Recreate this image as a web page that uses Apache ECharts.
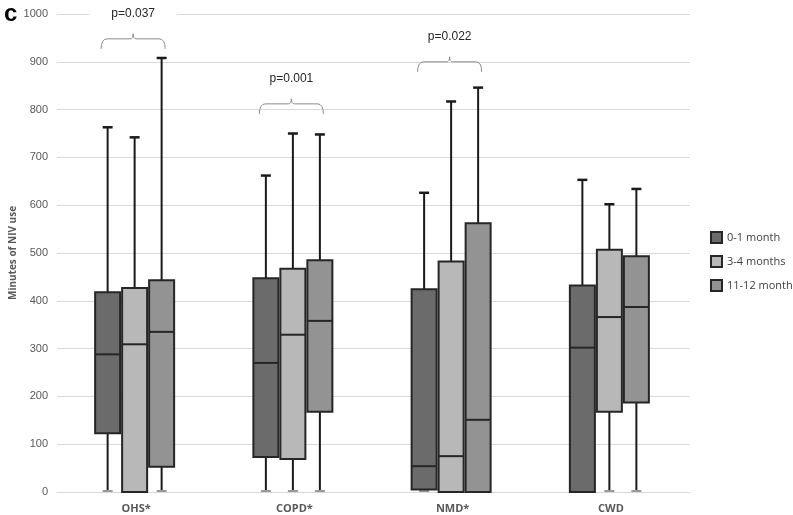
<!DOCTYPE html>
<html><head><meta charset="utf-8">
<script src="https://cdn.jsdelivr.net/npm/echarts@6/dist/echarts.min.js"></script>
<style>html,body{margin:0;padding:0;background:#fff}#c{width:793px;height:515px}</style>
</head><body><div id="c"></div>
<script>
const categories = ['OHS*', 'COPD*', 'NMD*', 'CWD'];
const seriesNames = ['0-1 month', '3-4 months', '11-12 months'];
// [min, Q1, median, Q3, max] per category
const month0_1   = [[0,123,288,418,763],[0,73,270,447,662],[0,5,54,424,626],[0,0,302,432,653]];
const months3_4  = [[0,0,309,427,742],[0,69,329,467,750],[0,0,75,482,817],[0,168,366,507,602]];
const months11_12= [[0,53,335,443,908],[0,168,358,485,748],[0,0,151,562,846],[0,187,387,493,634]];
const yTicks = [0,100,200,300,400,500,600,700,800,900,1000];
// significance brackets: [category index, bracket value, label]
const brackets = [[0, 948, 'p=0.037'], [1, 812, 'p=0.001'], [2, 900, 'p=0.022']];

const fills = ['#6b6b6b', '#b8b8b8', '#939393'];
const offsets = [-27, 0, 27];
const boxW = 25;

function makeRender(k) {
  return function (params, api) {
    const ci = api.value(0);
    const c = api.coord([ci, 0]);
    const cx = c[0] - 1.5 + offsets[k];
    const p = i => api.coord([ci, api.value(i)])[1];
    const yMin = p(1), yQ1 = p(2), yMed = p(3), yQ3 = p(4), yMax = p(5);
    const lineStyle = { stroke: '#1a1a1a', lineWidth: 2 };
    return {
      type: 'group',
      children: [
        { type: 'line', shape: { x1: cx, y1: yMax, x2: cx, y2: yQ3 }, style: lineStyle },
        { type: 'line', shape: { x1: cx, y1: yQ1, x2: cx, y2: yMin }, style: lineStyle },
        { type: 'line', shape: { x1: cx - 5, y1: yMax, x2: cx + 5, y2: yMax }, style: { stroke: '#1a1a1a', lineWidth: 2.5 } },
        { type: 'line', shape: { x1: cx - 5, y1: yMin - 1, x2: cx + 5, y2: yMin - 1 }, style: { stroke: '#999', lineWidth: 2 } },
        { type: 'rect', shape: { x: cx - boxW / 2, y: yQ3, width: boxW, height: yQ1 - yQ3 },
          style: { fill: fills[k], stroke: '#262626', lineWidth: 2 } },
        { type: 'line', shape: { x1: cx - boxW / 2, y1: yMed, x2: cx + boxW / 2, y2: yMed }, style: { stroke: '#262626', lineWidth: 2 } }
      ]
    };
  };
}

function bracketRender(params, api) {
  const ci = api.value(0);
  const c = api.coord([ci, api.value(1)]);
  const x0 = c[0] - 35, x1 = c[0] + 29, y = c[1];
  const tip = c[0] - 3;
  const d = `M${x0},${y + 10} Q${x0},${y} ${x0 + 6},${y} L${tip - 3},${y} Q${tip},${y} ${tip},${y - 5} Q${tip},${y} ${tip + 3},${y} L${x1 - 6},${y} Q${x1},${y} ${x1},${y + 10}`;
  const textY = api.coord([ci, api.value(1) + 52])[1];
  return {
    type: 'group',
    children: [
      { type: 'path', shape: { pathData: d }, style: { fill: 'none', stroke: '#8c8c8c', lineWidth: 1 } },
      { type: 'text', x: c[0] - 3, y: textY,
        style: { text: brackets[params.dataIndex][2], fill: '#262626', font: '12px "Liberation Sans", Arial, sans-serif',
          align: 'center', verticalAlign: 'middle', backgroundColor: '#fff', padding: [2, 22] } }
    ]
  };
}

function toData(arr) { return arr.map((v, i) => [i].concat(v)); }
const allData = [month0_1, months3_4, months11_12];

const series = allData.map((arr, k) => ({
  name: seriesNames[k], type: 'custom', renderItem: makeRender(k),
  data: toData(arr), encode: { x: 0, y: [1, 2, 3, 4, 5] },
  itemStyle: { color: fills[k], borderColor: '#262626', borderWidth: 1.5 }, z: 3
}));
series.push({
  name: 'brackets', type: 'custom', renderItem: bracketRender,
  data: brackets.map(b => [b[0], b[1]]), encode: { x: 0, y: 1 }, z: 4, silent: true
});

const chart = echarts.init(document.getElementById('c'));
chart.setOption({
  animation: false,
  backgroundColor: '#fff',
  graphic: [{ type: 'text', left: 4, top: 2, style: { text: 'c', font: 'bold 24px "Liberation Sans", Arial, sans-serif', fill: '#000' } }],
  grid: { left: 57, right: 103, top: 14, bottom: 23, containLabel: false, outerBoundsMode: 'none' },
  legend: {
    data: seriesNames, orient: 'vertical', left: 705, top: 226, itemGap: 11,
    itemWidth: 11, itemHeight: 11, icon: 'rect',
    textStyle: { color: '#404040', fontSize: 11, fontFamily: '"Open Sans", sans-serif' }
  },
  xAxis: {
    type: 'category', data: categories,
    axisLine: { lineStyle: { color: '#d9d9d9', width: 1 } }, axisTick: { show: false },
    axisLabel: { color: '#595959', fontWeight: 'bold', fontSize: 11, margin: 11, fontFamily: '"Open Sans", sans-serif' }
  },
  yAxis: {
    type: 'value', min: yTicks[0], max: yTicks[yTicks.length - 1], interval: 100,
    name: 'Minutes of NIV use', nameLocation: 'middle', nameGap: 39, nameMoveOverlap: false,
    nameTextStyle: { color: '#595959', fontWeight: 'bold', fontSize: 10, fontFamily: '"Open Sans", sans-serif' },
    axisLine: { show: false }, axisTick: { show: false },
    axisLabel: { color: '#595959', fontSize: 11, margin: 9, fontFamily: '"Liberation Sans", Arial, sans-serif', formatter: v => String(v) },
    splitLine: { lineStyle: { color: '#d9d9d9', width: 1 } }
  },
  series: series
});
</script></body></html>
